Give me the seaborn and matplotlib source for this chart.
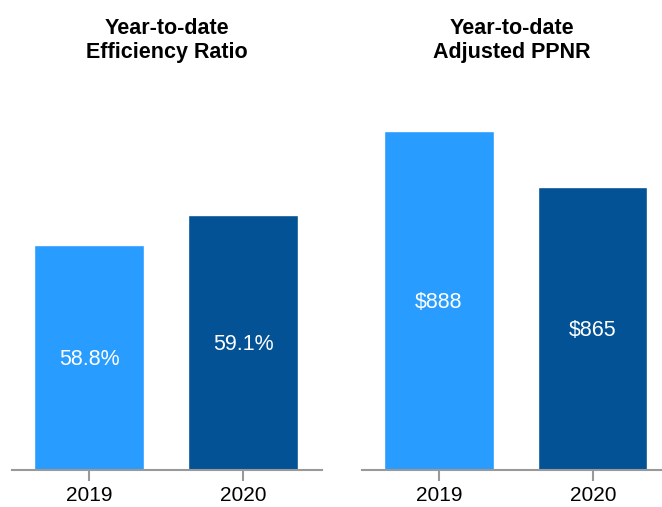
import matplotlib
matplotlib.use("Agg")
import matplotlib.pyplot as plt
import seaborn as sns
import pandas as pd

years = ["2019", "2020"]
eff_ratio = [58.8, 59.1]
eff_labels = ["58.8%", "59.1%"]
ppnr = [888, 865]
ppnr_labels = ["$888", "$865"]
titles = ["Year-to-date\nEfficiency Ratio", "Year-to-date\nAdjusted PPNR"]
colors = ["#289CFF", "#035295"]

sns.set_style("white")
plt.rcParams["font.family"] = ["Liberation Sans", "DejaVu Sans"]

fig = plt.figure(figsize=(6.62, 5.07), dpi=100)
ax1 = fig.add_axes([12 / 662, 37.5 / 507, 310 / 662, 369.5 / 507])
ax2 = fig.add_axes([362 / 662, 37.5 / 507, 300 / 662, 369.5 / 507])

panels = [
    (ax1, eff_ratio, eff_labels, titles[0], (56.55, 60.25), (-0.5, 1.513)),
    (ax2, ppnr, ppnr_labels, titles[1], (748.8, 900.7), (-0.5, 1.45)),
]

for ax, vals, labs, title, ylim, xlim in panels:
    df = pd.DataFrame({"year": years, "value": vals})
    sns.barplot(data=df, x="year", y="value", hue="year", palette=colors,
                width=0.71, legend=False, ax=ax, saturation=1)
    ax.set_ylim(*ylim)
    ax.set_xlim(*xlim)
    for i, (v, lab) in enumerate(zip(vals, labs)):
        ax.text(i, (ylim[0] + v) / 2, lab, ha="center", va="center_baseline",
                color="white", fontsize=15.5)
    for s in ["top", "right", "left"]:
        ax.spines[s].set_visible(False)
    ax.spines["bottom"].set_color("#999999")
    ax.spines["bottom"].set_linewidth(1.5)
    ax.set_yticks([])
    ax.set_xlabel("")
    ax.set_ylabel("")
    ax.tick_params(axis="x", bottom=True, length=8, width=1.5, color="#999999",
                   labelsize=15, pad=4, labelcolor="black")
    ax.set_title(title, fontsize=15.5, fontweight="bold", pad=30,
                 linespacing=1.22, color="black")

fig.savefig("out.png", dpi=100)
